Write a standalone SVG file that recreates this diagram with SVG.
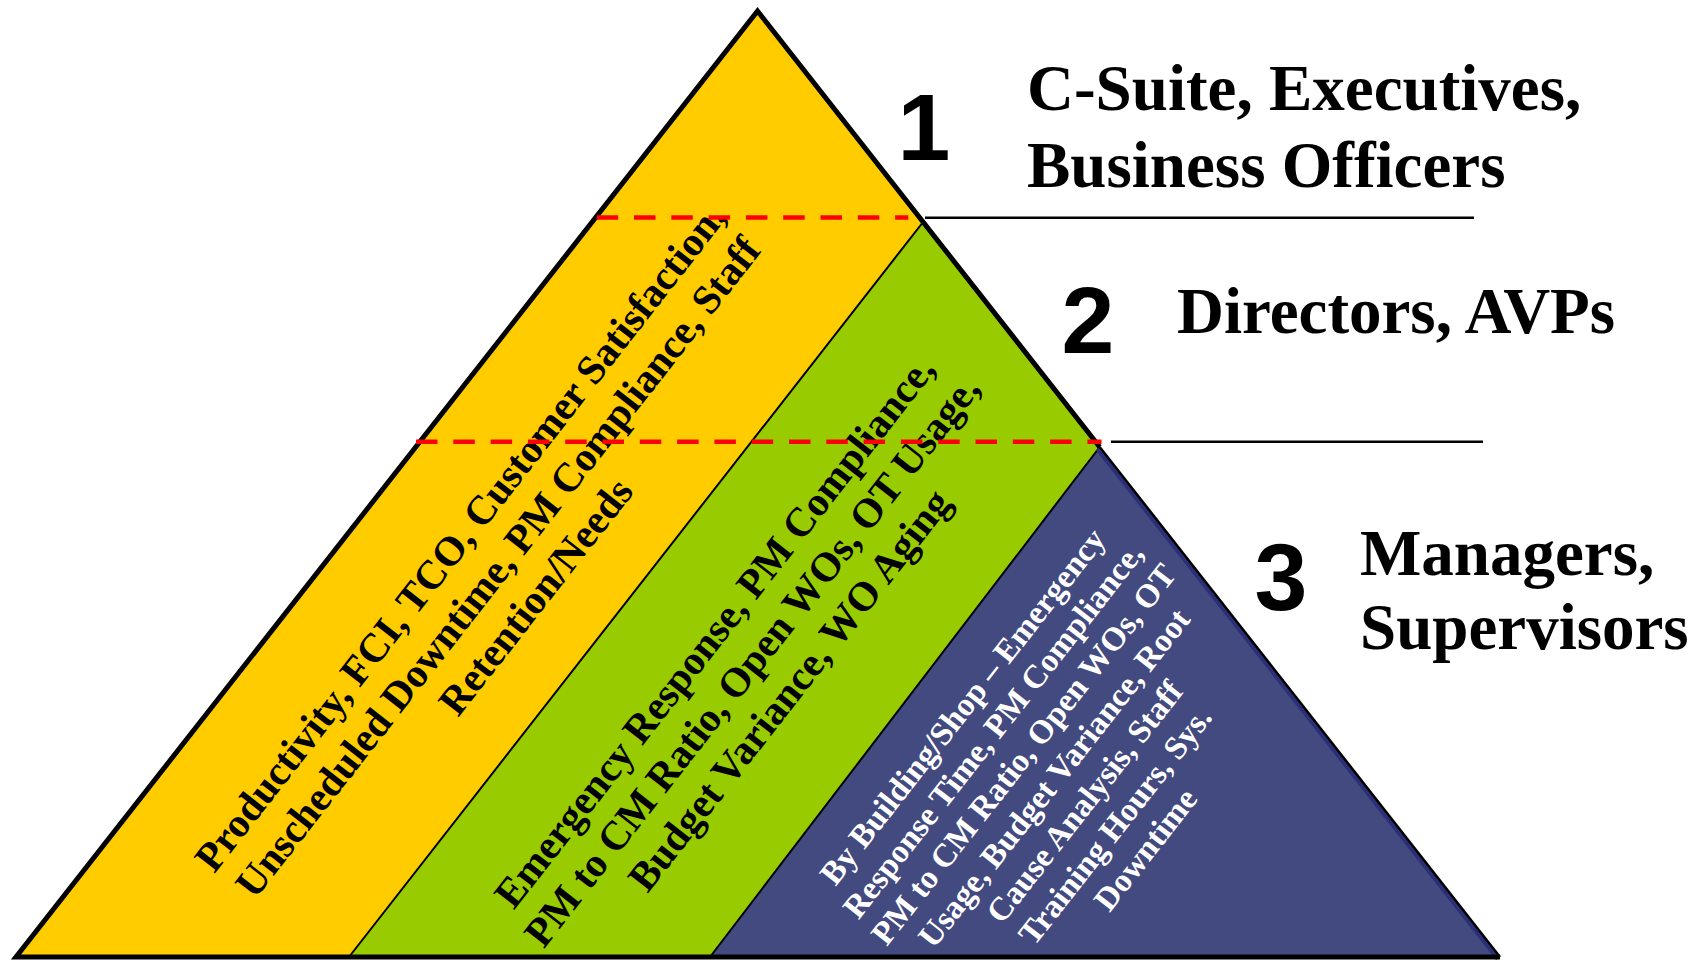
<svg xmlns="http://www.w3.org/2000/svg" width="1698" height="960" viewBox="0 0 1698 960">
  <style>
    .serif { font-family: "Liberation Serif", "Times New Roman", serif; font-weight: bold; }
    .num { font-family: "Liberation Sans", Arial, sans-serif; font-weight: bold; font-size: 95px; fill: #000; text-anchor: middle; }
    .label { font-size: 65px; fill: #000; }
    .band { font-size: 41px; fill: #000; text-anchor: middle; }
    .band-small { font-size: 33px; fill: #fff; text-anchor: middle; }
    .edge { stroke: #000; stroke-width: 5; fill: none; stroke-linejoin: miter; }
    .split { stroke: #000; stroke-width: 2; }
    .cut { stroke: #ff0000; stroke-width: 4.5; stroke-dasharray: 21.5 15.8; }
    .rule { stroke: #000; stroke-width: 2.5; }
  </style>

  <!-- Level 1: top of the pyramid plus the left strip -->
  <g id="level-1">
    <polygon points="757.5,11 923.1,222 349,957 16,957" fill="#ffcc00"/>
    <g class="serif band" transform="translate(498,567) rotate(-52)">
      <text x="0" y="-34.5">Productivity, FCI, TCO, Customer Satisfaction,</text>
      <text x="0" y="13.5">Unscheduled Downtime, PM Compliance, Staff</text>
      <text x="0" y="61.5">Retention/Needs</text>
    </g>
    <text class="num" x="924" y="160">1</text>
    <text class="serif label" x="1027" y="110">C-Suite, Executives,</text>
    <text class="serif label" x="1027" y="187">Business Officers</text>
  </g>

  <!-- Level 2: middle band -->
  <g id="level-2">
    <polygon points="923.1,222 1099.7,447 710,957 349,957" fill="#99cc00"/>
    <g class="serif band" transform="translate(752,661) rotate(-52)">
      <text x="0" y="-34">Emergency Response, PM Compliance,</text>
      <text x="0" y="13.5">PM to CM Ratio, Open WOs, OT Usage,</text>
      <text x="0" y="61">Budget Variance, WO Aging</text>
    </g>
    <text class="num" x="1088" y="353">2</text>
    <text class="serif label" x="1177" y="333">Directors, AVPs</text>
  </g>

  <!-- Level 3: bottom-right wedge -->
  <g id="level-3">
    <polygon points="1099.7,447 1500,957 710,957" fill="#424a80"/>
    <g class="serif band-small" transform="translate(1054,778) rotate(-52)">
      <text x="0" y="-105">By Building/Shop – Emergency</text>
      <text x="0" y="-66.4">Response Time, PM Compliance,</text>
      <text x="0" y="-27.7">PM to CM Ratio, Open WOs, OT</text>
      <text x="0" y="11">Usage, Budget Variance, Root</text>
      <text x="0" y="49.7">Cause Analysis, Staff</text>
      <text x="0" y="88.4">Training Hours, Sys.</text>
      <text x="0" y="127.1">Downtime</text>
    </g>
    <text class="num" x="1281" y="610">3</text>
    <text class="serif label" x="1360" y="575">Managers,</text>
    <text class="serif label" x="1360" y="649">Supervisors</text>
  </g>

  <!-- Outlines, band splits, level cuts and leader rules -->
  <g id="connectors">
    <line class="split" x1="923.1" y1="222" x2="349" y2="957"/>
    <line class="split" x1="1099.7" y1="447" x2="710" y2="957"/>
    <line x1="1097.4" y1="448.9" x2="1497.6" y2="958.8" stroke="#2b2f78" stroke-width="4"/>
    <line x1="1099.7" y1="447" x2="1500" y2="957" stroke="#000" stroke-width="2.5"/>
    <polyline class="edge" points="1099.7,447 757.5,11 16,957 1500,957"/>
    <line class="cut" x1="596.7" y1="217.5" x2="908.3" y2="217.5"/>
    <line class="cut" x1="416" y1="441.7" x2="1101.5" y2="441.7"/>
    <line class="rule" x1="925" y1="217.7" x2="1474" y2="217.7"/>
    <line class="rule" x1="1111" y1="441.7" x2="1483" y2="441.7"/>
  </g>
</svg>
